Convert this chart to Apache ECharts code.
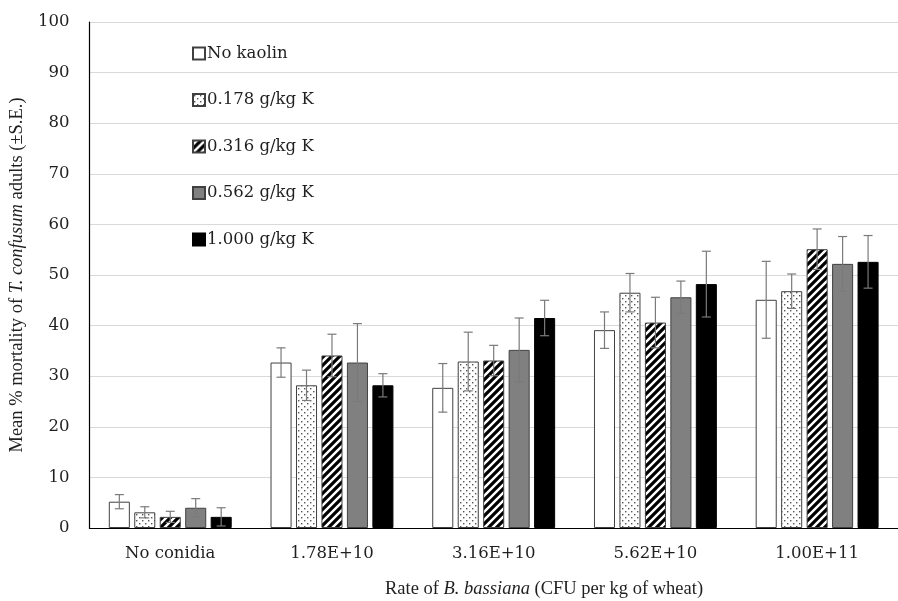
<!DOCTYPE html>
<html><head><meta charset="utf-8">
<script src="https://cdn.jsdelivr.net/npm/echarts@6/dist/echarts.min.js"></script>
<style>html,body{margin:0;padding:0;background:#fff}#c{width:898px;height:601px}</style>
</head><body><div id="c"></div>
<script>
const categories = ['No conidia','1.78E+10','3.16E+10','5.62E+10','1.00E+11'];
const seriesNames = ['No kaolin','0.178 g/kg K','0.316 g/kg K','0.562 g/kg K','1.000 g/kg K'];
const noKaolin = [5.2, 32.7, 27.7, 39.1, 45.1];
const k178     = [3.1, 28.2, 32.9, 46.5, 46.8];
const k316     = [2.2, 34.1, 33.1, 40.6, 55.1];
const k562     = [4.0, 32.7, 35.2, 45.6, 52.2];
const k1000    = [2.2, 28.2, 41.5, 48.2, 52.6];
const seNoKaolin = [1.4, 2.9, 4.8, 3.6, 7.6];
const se178      = [1.1, 3.0, 5.8, 3.8, 3.4];
const se316      = [1.1, 4.2, 3.0, 5.0, 4.0];
const se562      = [1.8, 7.7, 6.3, 3.2, 5.4];
const se1000     = [1.8, 2.3, 3.5, 6.5, 5.2];
const yTicks = [0,10,20,30,40,50,60,70,80,90,100];

const values = [noKaolin, k178, k316, k562, k1000];
const errors = [seNoKaolin, se178, se316, se562, se1000];

function dotPattern(){
  const c = document.createElement('canvas'); c.width = 6; c.height = 6;
  const g = c.getContext('2d');
  g.fillStyle = '#fff'; g.fillRect(0,0,6,6);
  g.fillStyle = '#555';
  g.fillRect(1,1,1.4,1.4); g.fillRect(4,4,1.4,1.4);
  return c;
}
function stripePattern(){
  const s = 8;
  const c = document.createElement('canvas'); c.width = s; c.height = s;
  const g = c.getContext('2d');
  g.fillStyle = '#fff'; g.fillRect(0,0,s,s);
  g.strokeStyle = '#000'; g.lineWidth = 3.2;
  g.beginPath();
  g.moveTo(-2, s+2); g.lineTo(s+2, -2);
  g.moveTo(-2-s, s+2); g.lineTo(2, -2);
  g.moveTo(s-2, s+2); g.lineTo(s*2+2, -2);
  g.stroke();
  return c;
}
const fills = [
  '#ffffff',
  {image: dotPattern(), repeat: 'repeat'},
  {image: stripePattern(), repeat: 'repeat'},
  '#808080',
  '#000000'
];
const borders = ['#404040','#404040','#404040','#404040','#000000'];

const BAR_GAP = 0.21, CAT_GAP = 0.24, N = 5;
const labelFont = '"DejaVu Serif", serif';
const titleFont = '"Liberation Serif", "DejaVu Serif", serif';
const txtColor = '#1f1f1f';

const series = [];
values.forEach((v, i) => {
  series.push({
    name: seriesNames[i], type: 'bar', data: v,
    barGap: (BAR_GAP*100)+'%', barCategoryGap: (CAT_GAP*100)+'%',
    itemStyle: {color: fills[i], borderColor: borders[i], borderWidth: 1},
    emphasis: {disabled: true}
  });
});
values.forEach((v, i) => {
  series.push({
    type: 'custom', name: 'err'+i, z: 10,
    data: v.map((val, j) => [j, val, errors[i][j]]),
    renderItem: function(params, api){
      const j = api.value(0);
      const val = api.value(1), se = api.value(2);
      const bandW = api.size([1,0])[0];
      const w = bandW*(1-CAT_GAP)/(N + (N-1)*BAR_GAP);
      const total = bandW*(1-CAT_GAP);
      const off = -total/2 + i*w*(1+BAR_GAP) + w/2;
      const top = api.coord([j, val+se]);
      const bot = api.coord([j, Math.max(0, val-se)]);
      const x = top[0] + off;
      const cap = 4.5;
      const st = {stroke: '#7a7a7a', lineWidth: 1.2};
      return {type: 'group', children: [
        {type:'line', shape:{x1:x,y1:top[1],x2:x,y2:bot[1]}, style: st},
        {type:'line', shape:{x1:x-cap,y1:top[1],x2:x+cap,y2:top[1]}, style: st},
        {type:'line', shape:{x1:x-cap,y1:bot[1],x2:x+cap,y2:bot[1]}, style: st}
      ]};
    },
    encode: {x: 0, y: 1}
  });
});

const chart = echarts.init(document.getElementById('c'), null, {renderer: 'canvas'});
chart.setOption({
  animation: false,
  backgroundColor: '#fff',
  textStyle: {fontFamily: labelFont},
  grid: {left: 86, right: 0, top: 22, bottom: 73, containLabel: false},
  legend: {
    data: seriesNames, orient: 'vertical', left: 187, top: 40,
    itemWidth: 12, itemHeight: 12, itemGap: 29.5,
    icon: 'rect',
    textStyle: {fontFamily: labelFont, fontSize: 16.5, color: txtColor, padding: [0,0,0,-3]}
  },
  xAxis: {
    type: 'category', data: categories,
    axisLine: {lineStyle: {color: '#000', width: 1.2}},
    axisTick: {show: false},
    axisLabel: {fontFamily: labelFont, fontSize: 16.5, color: txtColor, margin: 17}
  },
  yAxis: {
    type: 'value', min: 0, max: 100, interval: 10,
    axisLine: {show: true, lineStyle: {color: '#000', width: 1.2}},
    axisTick: {show: false},
    axisLabel: {fontFamily: labelFont, fontSize: 16.5, color: txtColor, margin: 20,
      formatter: v => yTicks.includes(v) ? String(v) : ''},
    splitLine: {lineStyle: {color: '#d9d9d9', width: 1}},
    name: 'Mean % mortality of {i|T. confusum} adults (±S.E.)',
    nameLocation: 'middle', nameGap: 60, nameRotate: 90,
    nameTextStyle: {fontFamily: titleFont, fontSize: 18.5, color: txtColor,
      rich: {i: {fontFamily: titleFont, fontSize: 18.5, fontStyle: 'italic', color: txtColor}}}
  },
  graphic: [{
    type: 'text', left: 385, top: 580,
    style: {
      text: 'Rate of {i|B. bassiana} (CFU per kg of wheat)',
      font: '18.5px ' + titleFont, fill: txtColor,
      rich: {i: {fontFamily: titleFont, fontSize: 18.5, fontStyle: 'italic', fill: txtColor}}
    }
  }],
  series: series
});
</script></body></html>
